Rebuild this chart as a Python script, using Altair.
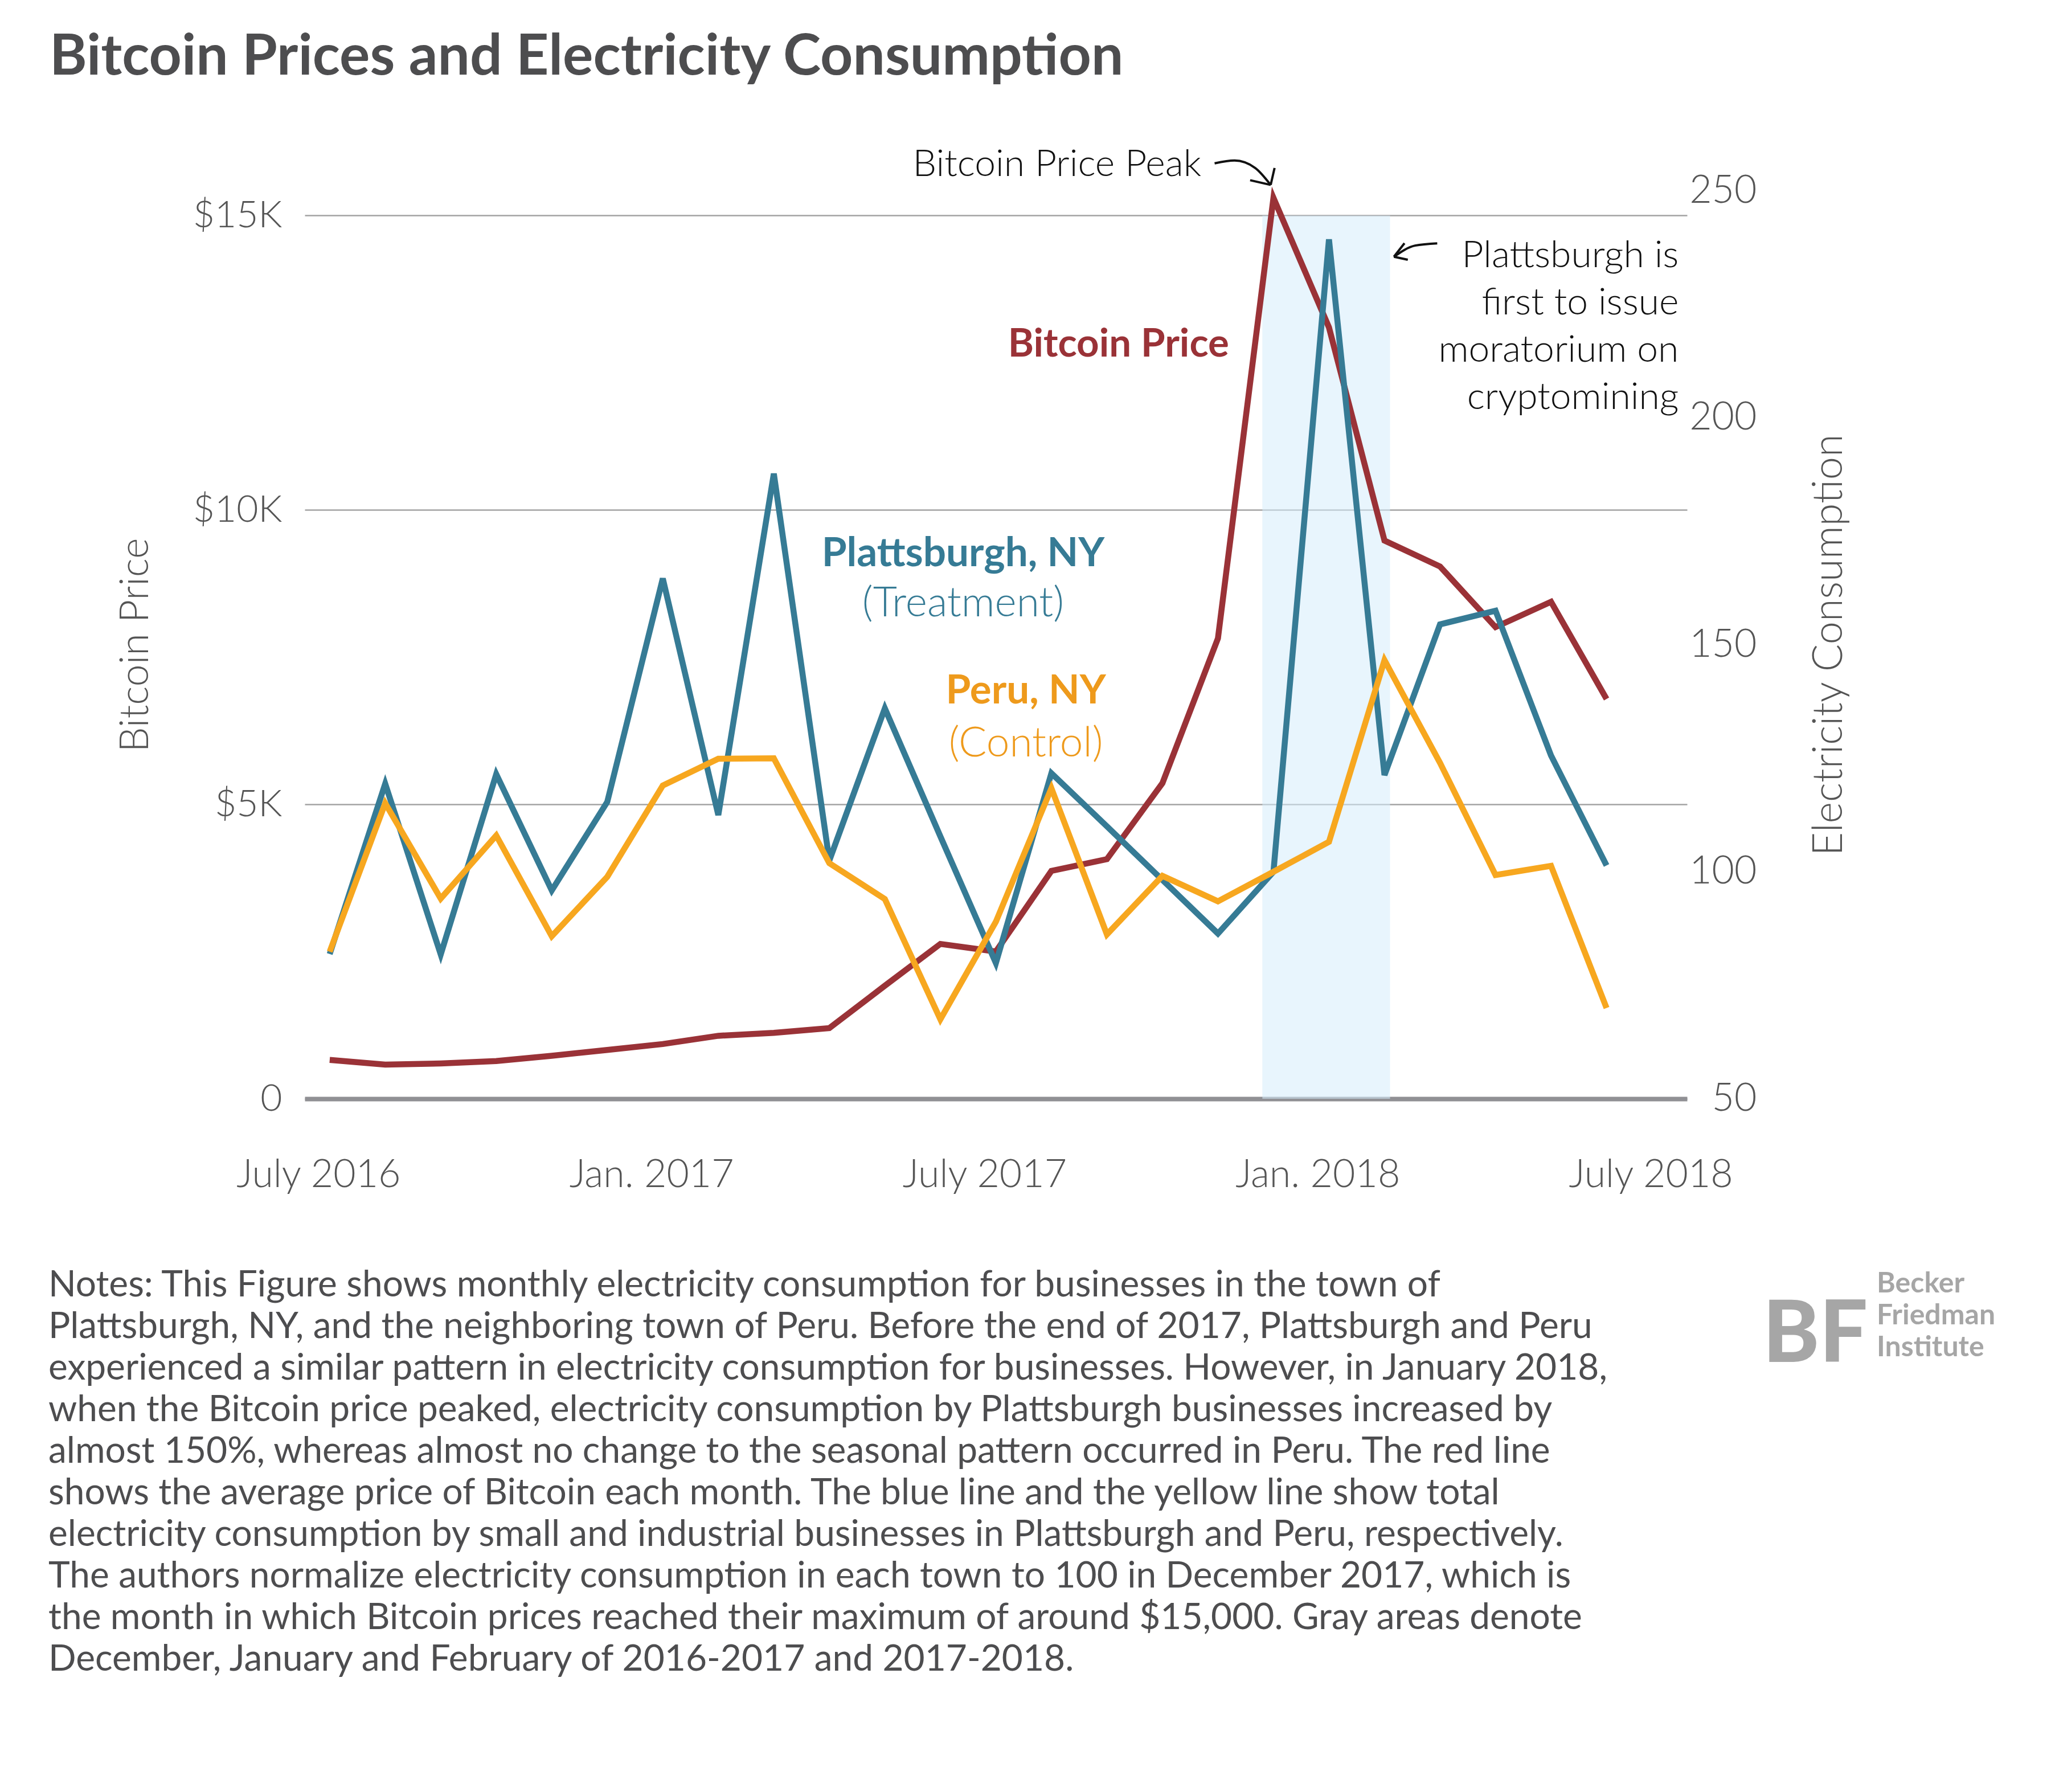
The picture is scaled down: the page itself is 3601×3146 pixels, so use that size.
import altair as alt
import pandas as pd

# monthly observations: 0 = July 2016 ... 23 = June 2018
month_idx = list(range(24))
bitcoin_price = [660, 580, 600, 640, 730, 830, 930, 1070, 1120, 1200, 1920, 2630,
                 2500, 3870, 4070, 5360, 7820, 15300, 13100, 9480, 9040, 8010, 8440, 6790]
plattsburgh = [81.9, 119.4, 81.8, 121.5, 95.9, 115.4, 164.6, 112.5, 187.7, 102.5, 136.0, 107.8,
               79.9, 121.7, 110.0, 98.2, 86.4, 100.0, 239.3, 121.3, 154.5, 157.5, 125.6, 101.4]
peru = [82.4, 115.1, 94.1, 108.0, 85.8, 98.9, 119.0, 124.9, 125.0, 101.9, 94.0, 67.5,
        89.0, 118.4, 86.2, 99.1, 93.5, 100.0, 106.6, 146.6, 124.0, 99.3, 101.3, 70.0]

x_ticks = [0, 6, 12, 18, 24]
x_tick_labels = ["July 2016", "Jan. 2017", "July 2017", "Jan. 2018", "July 2018"]
price_ticks = [0, 5000, 10000, 15000]
power_ticks = [50, 100, 150, 200, 250]

# moratorium window (Dec 2017 - Feb 2018)
shade_start = [16.8]
shade_end = [19.1]

title_text = "Bitcoin Prices and Electricity Consumption"
notes_lines = [
    "Notes: This Figure shows monthly electricity consumption for businesses in the town of",
    "Plattsburgh, NY, and the neighboring town of Peru. Before the end of 2017, Plattsburgh and Peru",
    "experienced a similar pattern in electricity consumption for businesses. However, in January 2018,",
    "when the Bitcoin price peaked, electricity consumption by Plattsburgh businesses increased by",
    "almost 150%, whereas almost no change to the seasonal pattern occurred in Peru. The red line",
    "shows the average price of Bitcoin each month. The blue line and the yellow line show total",
    "electricity consumption by small and industrial businesses in Plattsburgh and Peru, respectively.",
    "The authors normalize electricity consumption in each town to 100 in December 2017, which is",
    "the month in which Bitcoin prices reached their maximum of around $15,000. Gray areas denote",
    "December, January and February of 2016-2017 and 2017-2018.",
]
moratorium_lines = ["Plattsburgh is", "first to issue", "moratorium on", "cryptomining"]
logo_mark_text = "BF"
logo_lines = ["Becker", "Friedman", "Institute"]

# arrow strokes for the two callouts (month index, bitcoin-price units)
arrow_seg = ["p", "p", "p", "p", "pa", "pa", "pb", "pb",
             "m", "m", "m", "ma", "ma", "mb", "mb"]
arrow_m = [15.94, 16.3, 16.67, 16.95, 16.95, 16.58, 16.95, 17.02,
           19.95, 19.55, 19.17, 19.17, 19.36, 19.17, 19.42]
arrow_v = [15886, 15934, 15809, 15520, 15520, 15600, 15520, 15808,
           14528, 14490, 14300, 14300, 14530, 14300, 14250]

RED = "#9a3237"
BLUE = "#367b95"
ORANGE = "#f7a71f"
ORANGE_TXT = "#ee9a1c"
GRAY_TXT = "#555555"
DARK = "#4d4d4f"
LOGO = "#a6a6a6"
FONT = "Lato"

W, H = 2427, 1594

df = pd.DataFrame({"m": month_idx, "btc": bitcoin_price,
                   "plattsburgh": plattsburgh, "peru": peru})

x_axis = alt.Axis(
    values=x_ticks,
    labelExpr="[" + ",".join(f"'{t}'" for t in x_tick_labels) + "][round(datum.value / 6)]",
    title=None, grid=False, ticks=False,
    domainColor="#909094", domainWidth=8,
    labelFont=FONT, labelFontSize=68, labelFontWeight=300, labelColor=GRAY_TXT,
    labelPadding=100, labelOffset=-20, labelLimit=0,
)
x_scale = alt.Scale(domain=[-0.45, 24.45], nice=False, zero=False)

left_scale = alt.Scale(domain=[0, 15420], nice=False, zero=False)
left_axis = alt.Axis(
    orient="left", values=price_ticks,
    labelExpr="datum.value == 0 ? '0' : '$' + datum.value / 1000 + 'K'",
    grid=True, gridColor="#a3a3a3", gridWidth=2.5, domain=False, ticks=False,
    labelFont=FONT, labelFontSize=66, labelFontWeight=300, labelColor=GRAY_TXT, labelPadding=40,
    title="Bitcoin Price", titleFont=FONT, titleFontSize=70, titleFontWeight=300,
    titleColor=GRAY_TXT, titleX=-297, titleY=H / 2, titleAngle=-90,
    titleAlign="center", titleBaseline="middle",
)
right_scale = alt.Scale(domain=[50, 250], nice=False, zero=False)
right_axis = alt.Axis(
    orient="right", values=power_ticks, grid=False, domain=False, ticks=False,
    labelFont=FONT, labelFontSize=68, labelFontWeight=300, labelColor=GRAY_TXT,
    labelAlign="right", labelPadding=122,
    title="Electricity Consumption", titleFont=FONT, titleFontSize=72, titleFontWeight=300,
    titleColor=GRAY_TXT, titleX=249, titleY=H / 2, titleAngle=-90,
    titleAlign="center", titleBaseline="middle",
)


def xq(field):
    return alt.X(field, scale=x_scale, axis=x_axis)


def yl(field):
    return alt.Y(field, scale=left_scale, axis=left_axis)


def yr(field):
    return alt.Y(field, scale=right_scale, axis=right_axis)


# ---- left (bitcoin price) group ----
band = alt.Chart(pd.DataFrame({"s": shade_start, "e": shade_end})).mark_rect(
    color="#d6ecfb", opacity=0.55
).encode(
    x=xq("s:Q"), x2="e:Q",
    y=alt.YDatum(0, scale=left_scale, axis=left_axis), y2=alt.Y2Datum(15000),
)

price_line = alt.Chart(df).mark_line(color=RED, strokeWidth=10.5).encode(
    x=xq("m:Q"), y=yl("btc:Q")
)

arrows = alt.Chart(pd.DataFrame({"seg": arrow_seg, "m": arrow_m, "v": arrow_v})).mark_line(
    color="#111111", strokeWidth=4, interpolate="monotone"
).encode(x=xq("m:Q"), y=yl("v:Q"), detail="seg:N")

left_labels = pd.DataFrame({
    "t": ["Bitcoin Price", "Bitcoin Price Peak", "\n".join(moratorium_lines)],
    "m": [16.2, 15.7, 24.3],
    "v": [12805, 15867, 14625],
    "kind": ["series", "peak", "note"],
})
price_label = alt.Chart(left_labels).transform_filter("datum.kind == 'series'").mark_text(
    align="right", baseline="middle", font=FONT, fontSize=69, fontWeight="bold", color=RED
).encode(x=xq("m:Q"), y=yl("v:Q"), text="t:N")
peak_label = alt.Chart(left_labels).transform_filter("datum.kind == 'peak'").mark_text(
    align="right", baseline="middle", font=FONT, fontSize=66, fontWeight=300, color="#111111"
).encode(x=xq("m:Q"), y=yl("v:Q"), text="t:N")
note_label = alt.Chart(left_labels).transform_filter("datum.kind == 'note'").mark_text(
    align="right", baseline="top", font=FONT, fontSize=66, fontWeight=300, color="#111111",
    lineBreak="\n", lineHeight=83,
).encode(x=xq("m:Q"), y=yl("v:Q"), text="t:N")

title = alt.Chart(pd.DataFrame({"t": [title_text]})).mark_text(
    align="left", baseline="alphabetic", font=FONT, fontSize=100, fontWeight="bold", color=DARK
).encode(x=alt.value(-448), y=alt.value(-204), text="t:N")

notes = alt.Chart(pd.DataFrame({"t": ["\n".join(notes_lines)]})).mark_text(
    align="left", baseline="top", font=FONT, fontSize=64, color=DARK,
    lineBreak="\n", lineHeight=73,
).encode(x=alt.value(-450), y=alt.value(1890), text="t:N")

# logo: BF mark, then the three-line name
logo_mark = alt.Chart(pd.DataFrame({"t": [logo_mark_text]})).mark_text(
    align="left", baseline="alphabetic", font=FONT, fontSize=150, fontWeight=900, color=LOGO
).encode(x=alt.value(2560), y=alt.value(2056), text="t:N")
logo_text = alt.Chart(pd.DataFrame({"t": ["\n".join(logo_lines)]})).mark_text(
    align="left", baseline="alphabetic", font=FONT, fontSize=50, fontWeight="bold", color=LOGO,
    lineBreak="\n", lineHeight=56,
).encode(x=alt.value(2760), y=alt.value(1934), text="t:N")

left_group = alt.layer(band, price_line, arrows, price_label, peak_label, note_label,
                       title, notes, logo_mark, logo_text)

# ---- right (electricity consumption) group ----
platts_line = alt.Chart(df).mark_line(color=BLUE, strokeWidth=10.5).encode(
    x=xq("m:Q"), y=yr("plattsburgh:Q")
)
peru_line = alt.Chart(df).mark_line(color=ORANGE, strokeWidth=10.5).encode(
    x=xq("m:Q"), y=yr("peru:Q")
)

town_labels = pd.DataFrame({
    "t": ["Plattsburgh, NY", "(Treatment)", "Peru, NY", "(Control)"],
    "m": [11.41, 11.41, 12.54, 12.54],
    "v": [169.9, 159.0, 139.7, 128.2],
    "town": ["p", "p", "r", "r"],
    "w": ["bold", "light", "bold", "light"],
})
town_colors = alt.Scale(domain=["p", "r"], range=[BLUE, ORANGE_TXT])
town_bold = alt.Chart(town_labels).transform_filter("datum.w == 'bold'").mark_text(
    align="center", baseline="middle", font=FONT, fontSize=71, fontWeight="bold"
).encode(
    x=xq("m:Q"), y=yr("v:Q"), text="t:N",
    color=alt.Color("town:N", scale=town_colors, legend=None),
)
town_light = alt.Chart(town_labels).transform_filter("datum.w == 'light'").mark_text(
    align="center", baseline="middle", font=FONT, fontSize=73, fontWeight=300
).encode(
    x=xq("m:Q"), y=yr("v:Q"), text="t:N",
    color=alt.Color("town:N", scale=town_colors, legend=None),
)

right_group = alt.layer(platts_line, peru_line, town_bold, town_light)

chart = alt.layer(left_group, right_group).resolve_scale(y="independent").properties(
    width=W, height=H,
    autosize=alt.AutoSizeParams(type="none"),
    padding={"left": 527, "top": 327, "right": 600, "bottom": 1185},
    background="white",
).configure_view(stroke=None)

chart.save("out.html", embed_options={"renderer": "svg", "actions": False})
